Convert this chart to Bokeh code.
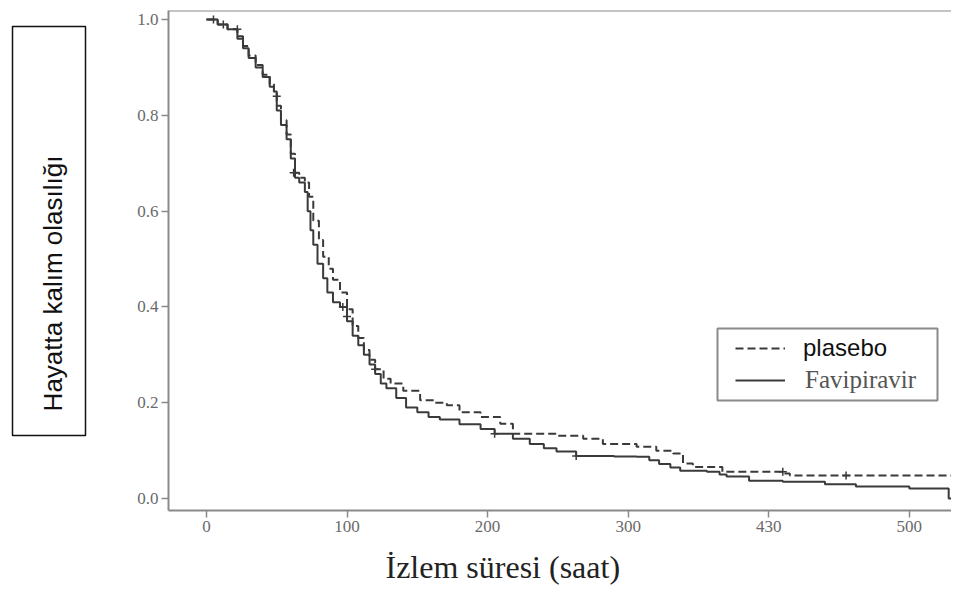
from bokeh.plotting import figure
from bokeh.layouts import row
from bokeh.models import (Label, Legend, LegendItem, BoxAnnotation, Range1d,
                          FixedTicker, Span, Title)
from bokeh.embed import file_html
from bokeh.resources import INLINE

# ---- data ----
fav_time = [0, 8, 15, 22, 26, 30, 35, 40, 45, 48, 50, 53, 57, 60, 63, 66, 70, 72,
            74, 76, 79, 83, 86, 90, 95, 100, 104, 108, 112, 116, 120, 124, 128,
            135, 142, 150, 158, 166, 180, 195, 205, 218, 230, 240, 249, 263, 290,
            306, 315, 322, 330, 337, 356, 365, 370, 386, 410, 440, 462, 500, 528, 540]
fav_surv = [1.0, 0.99, 0.98, 0.96, 0.94, 0.92, 0.90, 0.88, 0.86, 0.85, 0.81, 0.78,
            0.75, 0.71, 0.67, 0.66, 0.64, 0.60, 0.56, 0.53, 0.49, 0.46, 0.43, 0.41,
            0.40, 0.37, 0.34, 0.32, 0.30, 0.28, 0.26, 0.24, 0.23, 0.21, 0.19, 0.18,
            0.17, 0.165, 0.155, 0.145, 0.135, 0.125, 0.114, 0.105, 0.098, 0.089,
            0.088, 0.087, 0.08, 0.072, 0.065, 0.058, 0.056, 0.05, 0.046, 0.037,
            0.035, 0.03, 0.025, 0.021, 0.0, 0.0]

plc_time = [0, 8, 15, 22, 26, 30, 35, 40, 45, 48, 50, 53, 57, 60, 63, 66, 70, 73,
            76, 80, 83, 87, 90, 95, 100, 104, 108, 112, 116, 120, 126, 131, 140,
            152, 162, 171, 180, 195, 209, 218, 249, 268, 282, 306, 320, 332, 339,
            346, 367, 410, 415, 540]
plc_surv = [1.0, 0.99, 0.98, 0.965, 0.945, 0.925, 0.905, 0.885, 0.865, 0.85, 0.82,
            0.79, 0.76, 0.72, 0.68, 0.67, 0.66, 0.63, 0.58, 0.54, 0.505, 0.48,
            0.457, 0.43, 0.395, 0.36, 0.335, 0.31, 0.29, 0.27, 0.25, 0.24, 0.225,
            0.205, 0.2, 0.195, 0.18, 0.17, 0.156, 0.135, 0.131, 0.125, 0.114,
            0.108, 0.10, 0.094, 0.073, 0.066, 0.056, 0.052, 0.048, 0.048]

fav_cens_time = [5, 12, 50, 62, 97, 100, 205, 263]
fav_cens_surv = [1.0, 0.99, 0.84, 0.68, 0.40, 0.38, 0.135, 0.089]
plc_cens_time = [22, 120, 410, 455]
plc_cens_surv = [0.98, 0.27, 0.056, 0.048]

x_ticks = [0, 100, 200, 300, 400, 500]
x_tick_labels = {0: "0", 100: "100", 200: "200", 300: "300", 400: "430", 500: "500"}
y_ticks = [0.0, 0.2, 0.4, 0.6, 0.8, 1.0]
y_tick_labels = {0: "0.0", 0.2: "0.2", 0.4: "0.4", 0.6: "0.6", 0.8: "0.8", 1: "1.0"}

series_names = ["plasebo", "Favipiravir"]
x_title = "İzlem süresi (saat)"
y_title = "Hayatta kalım olasılığı"

H = 596
TOP = 10          # frame top (px)
BOTTOM = 512      # frame bottom (px)

# ---- left panel: boxed y title ----
yfig = figure(width=100, height=H, x_range=Range1d(0, 1), y_range=Range1d(0, 1),
              x_axis_type=None, y_axis_type=None, output_backend="svg",
              toolbar_location=None, min_border_left=0, min_border_right=0,
              min_border_top=TOP, min_border_bottom=H - BOTTOM)
yfig.xgrid.visible = False
yfig.ygrid.visible = False
yfig.outline_line_color = None
yfig.border_fill_color = "white"
yfig.add_layout(BoxAnnotation(left=12, right=85, bottom=BOTTOM - 437,
                              top=BOTTOM - 28, left_units="screen",
                              right_units="screen", top_units="screen",
                              bottom_units="screen", fill_alpha=0,
                              fill_color=None, line_color="#111111",
                              line_alpha=1.0, line_width=1.5))
yfig.add_layout(Label(x=52, y=BOTTOM - 285, x_units="screen", y_units="screen",
                      text=y_title, angle=90, angle_units="deg",
                      text_align="center", text_baseline="middle",
                      text_font="Liberation Sans", text_font_size="26px",
                      text_color="#111111"))

# ---- main figure ----
x_lo, x_hi = -27, 530
y_lo, y_hi = -0.025, 1.019
p = figure(width=851, height=H, x_range=Range1d(x_lo, x_hi),
           y_range=Range1d(y_lo, y_hi), output_backend="svg",
           toolbar_location=None, min_border_left=68, min_border_right=0,
           min_border_top=TOP, min_border_bottom=H - BOTTOM)
p.background_fill_color = "white"
p.border_fill_color = "white"
p.outline_line_color = None
p.xgrid.visible = False
p.ygrid.visible = False

axis_col = "#8a8a8a"
for ax in (p.xaxis[0], p.yaxis[0]):
    ax.axis_line_color = axis_col
    ax.axis_line_width = 2
    ax.major_tick_line_color = axis_col
    ax.major_tick_line_width = 1.5
    ax.major_tick_out = 7
    ax.major_tick_in = 0
    ax.minor_tick_line_color = None
    ax.major_label_text_font = "Liberation Serif"
    ax.major_label_text_font_size = "17px"
    ax.major_label_text_color = "#6a6a6a"
    ax.major_label_standoff = 3

p.xaxis.ticker = FixedTicker(ticks=x_ticks)
p.xaxis.major_label_overrides = x_tick_labels
p.yaxis.ticker = FixedTicker(ticks=y_ticks)
p.yaxis.major_label_overrides = y_tick_labels

p.add_layout(Span(location=y_hi, dimension="width", line_color=axis_col,
                  line_width=2))

line_col = "#3a3a3a"
plc_r = p.step(plc_time, plc_surv, mode="after", line_color=line_col,
               line_width=2, line_dash="8 4")
fav_r = p.step(fav_time, fav_surv, mode="after", line_color=line_col,
               line_width=2)
p.scatter(fav_cens_time, fav_cens_surv, marker="cross", size=8,
          line_color=line_col, line_width=1.5)
p.scatter(plc_cens_time, plc_cens_surv, marker="cross", size=8,
          line_color=line_col, line_width=1.5)

# ---- legend ----
leg1 = Legend(items=[LegendItem(label=series_names[0], renderers=[plc_r])],
              location=(567, 148), label_text_font="Liberation Sans",
              label_text_font_size="24px", label_text_color="#111111",
              glyph_width=50, glyph_height=26, label_height=26, label_standoff=18,
              padding=0, margin=0, border_line_color=None,
              background_fill_alpha=0)
leg2 = Legend(items=[LegendItem(label=series_names[1], renderers=[fav_r])],
              location=(567, 116), label_text_font="Liberation Serif",
              label_text_font_size="25px", label_text_color="#555555",
              glyph_width=50, glyph_height=26, label_height=26, label_standoff=20,
              padding=0, margin=0, border_line_color=None,
              background_fill_alpha=0)
p.add_layout(leg1)
p.add_layout(leg2)
p.add_layout(BoxAnnotation(left=549, right=769, top=182, bottom=110,
                           left_units="screen", right_units="screen",
                           top_units="screen", bottom_units="screen",
                           fill_color=None, fill_alpha=0, line_color="#8a8a8a",
                           line_alpha=1.0, line_width=2))

# ---- x title ----
p.add_layout(Title(text=x_title, align="left", offset=217, standoff=24,
                   text_line_height=0.6,
                   text_font="Liberation Serif", text_font_size="32px",
                   text_font_style="normal", text_color="#222222"), "below")

layout = row(yfig, p)
open("out.html", "w").write(file_html(layout, INLINE))
